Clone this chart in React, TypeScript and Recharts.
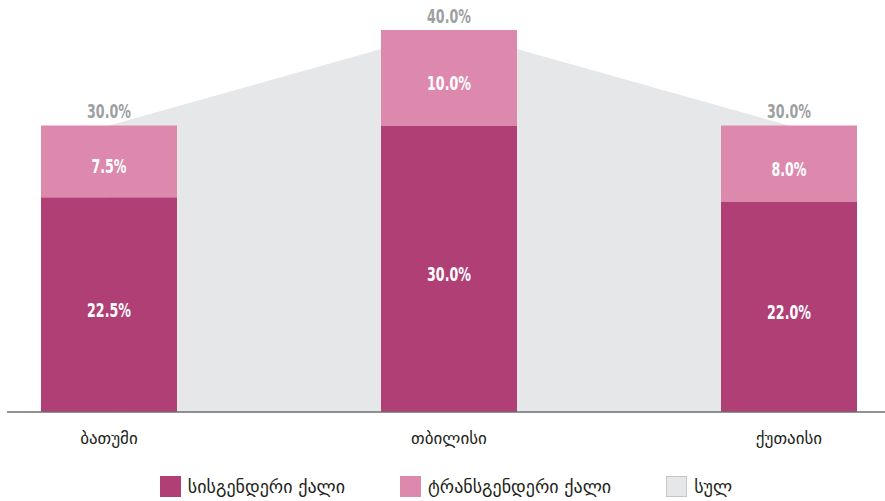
import React from 'react'
import {
  ComposedChart,
  Bar,
  Area,
  XAxis,
  YAxis,
  Legend,
  LabelList,
} from 'recharts'

const cities = ['ბათუმი', 'თბილისი', 'ქუთაისი']
const cisWomen = [22.5, 30.0, 22.0]
const transWomen = [7.5, 10.0, 8.0]
const totals = [30.0, 40.0, 30.0]

const seriesNames = ['სისგენდერი ქალი', 'ტრანსგენდერი ქალი', 'სულ']

const data = cities.map((city, i) => ({
  city,
  cis: cisWomen[i],
  trans: transWomen[i],
  total: totals[i],
}))

const numFont = "'DejaVu Sans Condensed', 'DejaVu Sans', sans-serif"
const textFont = "'DejaVu Sans', sans-serif"

const fmt = (v: any) => `${Number(v).toFixed(1)}%`

// condensed number text, squeezed horizontally to look like the original narrow face
function NarrowText({ cx, baseline, value, fill }: any) {
  return (
    <text
      x={cx}
      y={baseline}
      textAnchor="middle"
      fill={fill}
      fontSize={19}
      fontWeight="bold"
      fontFamily={numFont}
      transform={`translate(${cx},0) scale(0.74,1) translate(${-cx},0)`}
    >
      {fmt(value)}
    </text>
  )
}

const barLabel = (props: any) => {
  const { x, y, width, height, value } = props
  const cx = Number(x) + Number(width) / 2
  const cy = Number(y) + Number(height) / 2
  return <NarrowText cx={cx} baseline={cy + 12} value={value} fill="#ffffff" />
}

const totalLabel = (props: any) => {
  const { x, y, value } = props
  return <NarrowText cx={Number(x)} baseline={Number(y) - 7} value={value} fill="#9d9fa2" />
}

function LegendBox() {
  const items = [
    { name: seriesNames[0], fill: '#b03f76', border: '#b03f76' },
    { name: seriesNames[1], fill: '#dd89ad', border: '#dd89ad' },
    { name: seriesNames[2], fill: '#e6e7e8', border: '#c4c5c7' },
  ]
  return (
    <div
      style={{
        height: 59,
        boxSizing: 'border-box',
        paddingTop: 34,
        display: 'flex',
        justifyContent: 'center',
        gap: 55,
        fontFamily: textFont,
        fontSize: 18,
        color: '#231f20',
      }}
    >
      {items.map((it) => (
        <div key={it.name} style={{ display: 'flex', alignItems: 'center', height: 21 }}>
          <span
            style={{
              display: 'inline-block',
              width: 21,
              height: 21,
              boxSizing: 'border-box',
              background: it.fill,
              border: `1px solid ${it.border}`,
              marginRight: 7,
            }}
          />
          <span>{it.name}</span>
        </div>
      ))}
    </div>
  )
}

export default function App() {
  return (
    <div style={{ position: 'absolute', left: 0, top: 0, width: 885, height: 501, background: '#fff' }}>
      <ComposedChart
        width={885}
        height={501}
        data={data}
        margin={{ top: 30, right: 0, left: 7, bottom: 0 }}
      >
        <XAxis
          dataKey="city"
          height={30}
          padding={{ left: -68, right: -74 }}
          axisLine={{ stroke: '#6d6e71', strokeWidth: 1.5 }}
          tickLine={false}
          tickSize={0}
          tickMargin={20}
          tick={{ fill: '#231f20', fontSize: 17, fontFamily: textFont }}
        />
        <YAxis hide domain={[0, 40]} />
        <Legend verticalAlign="bottom" content={() => <LegendBox />} />
        <Area
          type="linear"
          dataKey="total"
          stroke="none"
          fill="#e6e7e8"
          fillOpacity={1}
          dot={false}
          activeDot={false}
          isAnimationActive={false}
        >
          <LabelList dataKey="total" content={totalLabel} />
        </Area>
        <Bar dataKey="cis" stackId="a" fill="#b03f76" barSize={136} isAnimationActive={false}>
          <LabelList dataKey="cis" content={barLabel} />
        </Bar>
        <Bar dataKey="trans" stackId="a" fill="#dd89ad" barSize={136} isAnimationActive={false}>
          <LabelList dataKey="trans" content={barLabel} />
        </Bar>
      </ComposedChart>
    </div>
  )
}
